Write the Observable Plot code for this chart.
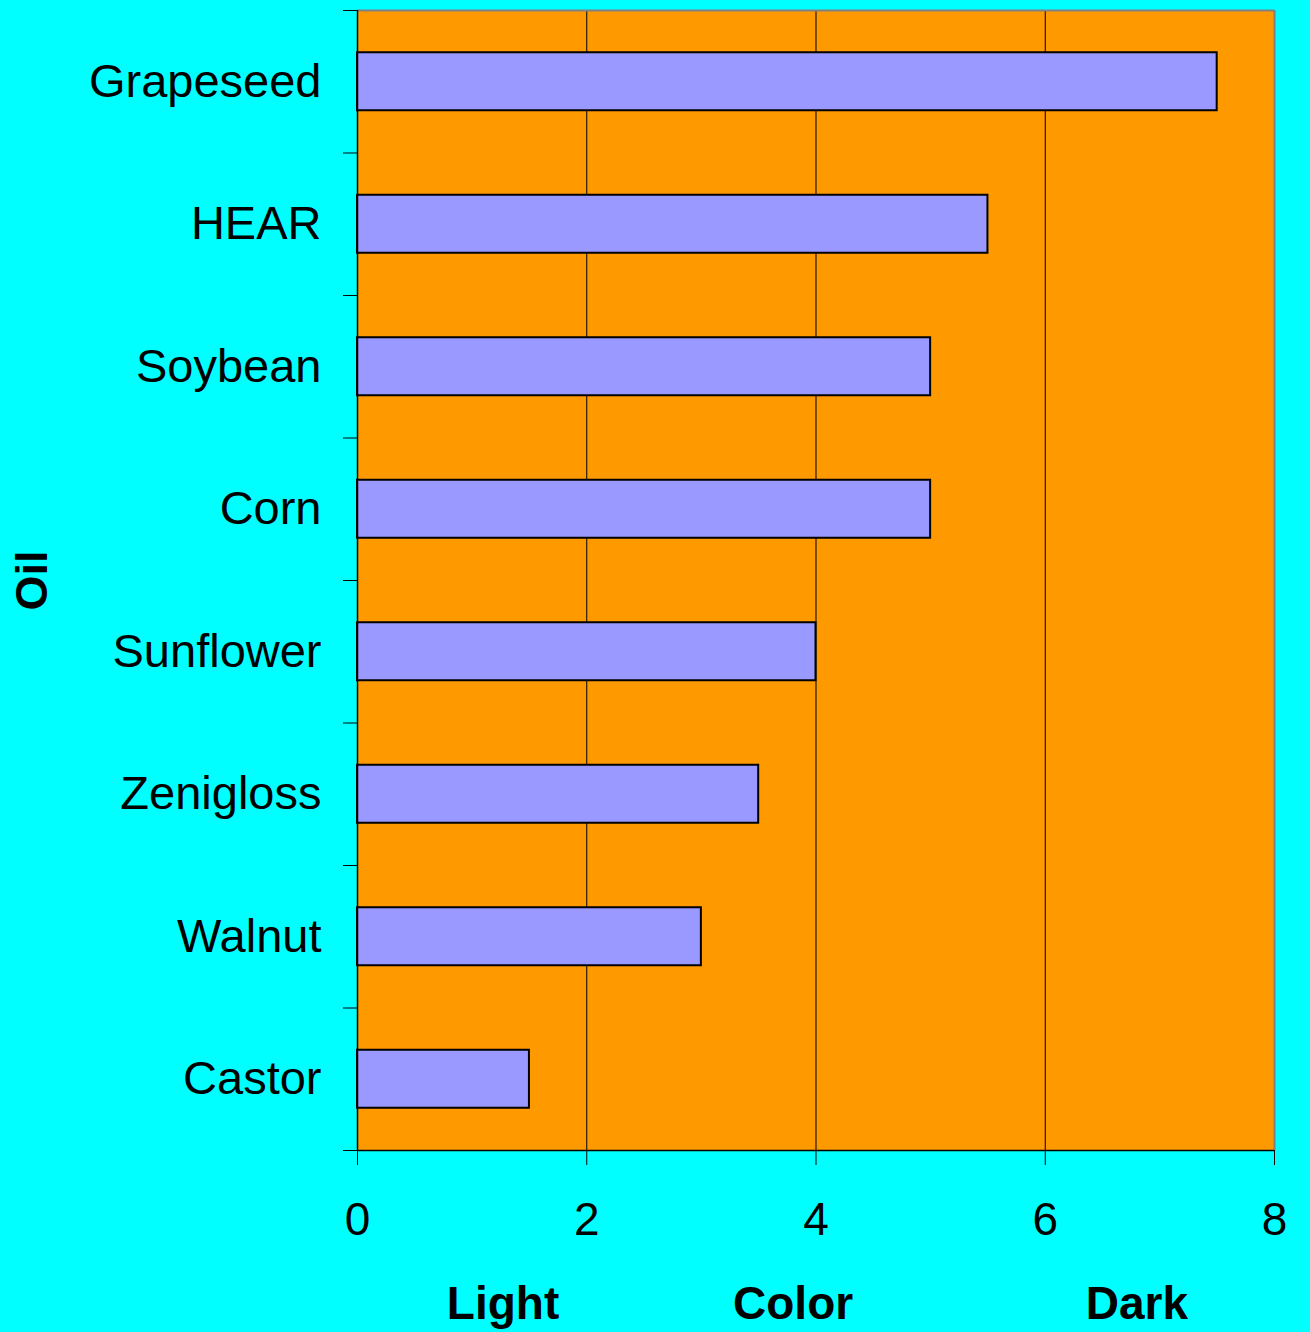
<!DOCTYPE html>
<html>
<head>
<meta charset="utf-8">
<script src="https://cdn.jsdelivr.net/npm/d3@7"></script>
<script src="https://cdn.jsdelivr.net/npm/@observablehq/plot@0.6"></script>
<style>
  html, body { margin: 0; padding: 0; background: #00FFFF; }
  #chart { width: 1310px; height: 1332px; }
</style>
</head>
<body>
<div id="chart"></div>
<script>
const oils = ["Grapeseed", "HEAR", "Soybean", "Corn", "Sunflower", "Zenigloss", "Walnut", "Castor"];
const colorValues = [7.5, 5.5, 5, 5, 4, 3.5, 3, 1.5];
const xTicks = [0, 2, 4, 6, 8];
const gridTicks = [2, 4, 6];
const colorLabels = ["Light", "Color", "Dark"];
const colorLabelX = [1.27, 3.8, 6.8];

const data = oils.map((oil, i) => ({oil, value: colorValues[i]}));
const labelData = colorLabels.map((t, i) => ({t, x: colorLabelX[i]}));

const W = 1310, H = 1332, mL = 357, mR = 36, mT = 10, mB = 182;
const half = (H - mT - mB) / oils.length / 2;
const font = "'Liberation Sans', Arial, sans-serif";

const chart = Plot.plot({
  width: W,
  height: H,
  marginLeft: mL,
  marginRight: mR,
  marginTop: mT,
  marginBottom: mB,
  style: {background: "#00FFFF", fontFamily: font, color: "black", overflow: "visible"},
  x: {domain: [0, 8], label: null},
  y: {domain: oils, paddingInner: 0.593, paddingOuter: 0.2965, round: false, label: null},
  marks: [
    Plot.frame({fill: "#FF9900", stroke: null}),
    Plot.gridX(gridTicks, {stroke: "black", strokeOpacity: 1, strokeWidth: 1}),
    Plot.ruleX([8], {stroke: "#808080", strokeWidth: 2}),
    Plot.ruleY([oils[0]], {x1: 0, x2: 8, dy: -half, stroke: "#808080", strokeWidth: 2}),
    Plot.barX(data, {x: "value", y: "oil", fill: "#9999FF", stroke: "black", strokeWidth: 2}),
    Plot.ruleX([0], {stroke: "black", strokeWidth: 1.5}),
    Plot.ruleY([oils[oils.length - 1]], {x1: 0, x2: 8, dy: half, stroke: "black", strokeWidth: 1.5}),
    Plot.axisX({ticks: xTicks, tickSize: 15, tickPadding: 37, fontSize: 46, stroke: "black", label: null}),
    Plot.axisY({tickSize: 14, tickFormat: () => "", dy: -half, stroke: "black", label: null}),
    Plot.axisY({ticks: [oils[oils.length - 1]], tickSize: 14, tickFormat: () => "", dy: half, stroke: "black", label: null}),
    Plot.axisY({tickSize: 0, tickPadding: 36, fontSize: 47, label: null}),
    Plot.text(["Oil"], {frameAnchor: "left", dx: -325, rotate: -90, fontWeight: "bold", fontSize: 45, fill: "black", textAnchor: "middle", lineAnchor: "middle"}),
    Plot.text(labelData, {x: "x", text: "t", frameAnchor: "bottom", dy: 154, fontWeight: "bold", fontSize: 46, fill: "black", lineAnchor: "middle"})
  ]
});
document.getElementById("chart").appendChild(chart);
</script>
</body>
</html>
